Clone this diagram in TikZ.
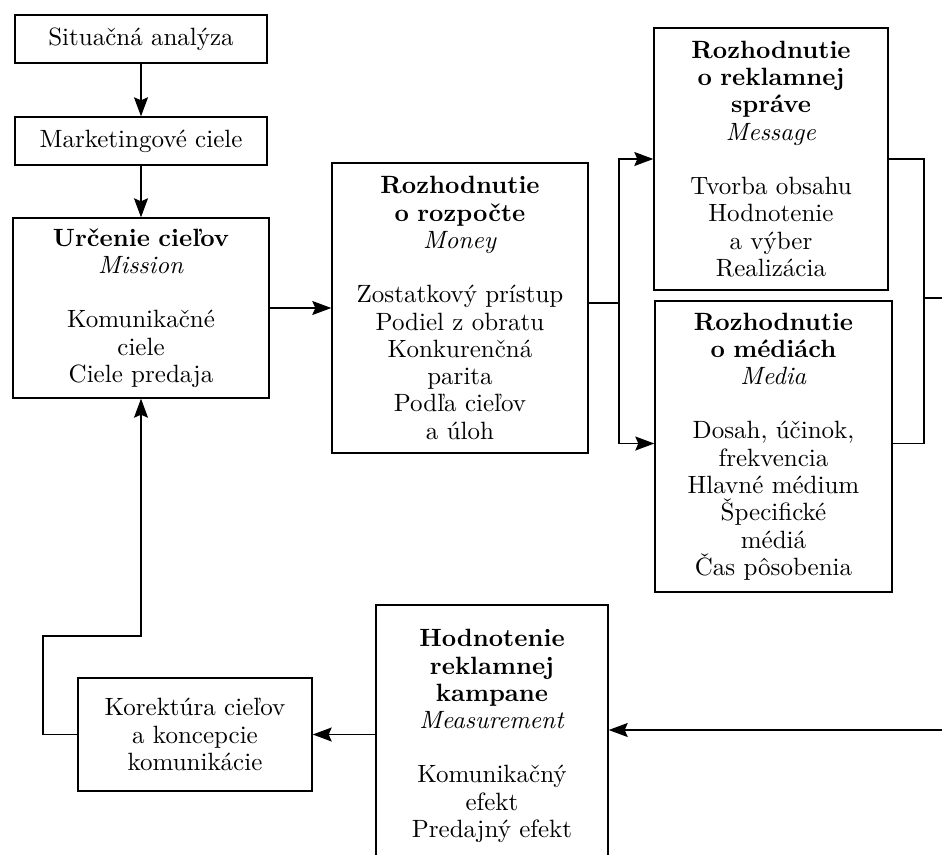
\documentclass[tikz,border=0pt]{standalone}
\usepackage{fontspec}
\setmainfont{lmroman10-regular.otf}[BoldFont=lmroman10-bold.otf, ItalicFont=lmroman10-italic.otf]
\usepackage{tikz}
\usetikzlibrary{arrows.meta}
\tikzstyle{smallbox} = [rectangle, minimum width=252pt, minimum height=48pt, text centered, draw=black, line width=1.4pt, font=\fontsize{25}{27.3}\selectfont]
\tikzstyle{bigbox} = [rectangle, text centered, draw=black, line width=1.4pt, text width=215pt, font=\fontsize{25}{27.3}\selectfont]
\tikzstyle{arrow} = [line width=1.4pt,-{Stealth[length=19pt,width=14pt,inset=3pt]}]
\tikzstyle{line} = [line width=1.4pt]

\begin{document}
\begin{tikzpicture}[x=1pt,y=-1pt,node distance=102pt]
        \useasboundingbox (0,0) rectangle (942,854);
        \node (sit) [smallbox] at (141,39) {Situačná analýza};
        \node (mark) [smallbox, below of=sit] {Marketingové ciele};
        \node (mission) [bigbox, minimum width=256pt, minimum height=180pt] at (141,308) {\textbf{Určenie cieľov}\\ \textit{Mission}\\[27pt] Komunikačné\\ ciele\\ Ciele predaja};
        \node (money) [bigbox, minimum width=256pt, minimum height=290pt] at (460,308) {\textbf{Rozhodnutie}\\ \textbf{o rozpočte}\\ \textit{Money}\\[27pt] Zostatkový prístup\\ Podiel z obratu\\ Konkurenčná\\ parita\\ Podľa cieľov\\ a úloh};
        \node (message) [bigbox, minimum width=234pt, minimum height=262pt] at (771,159) {\textbf{Rozhodnutie}\\ \textbf{o reklamnej}\\ \textbf{správe}\\ \textit{Message}\\[27pt] Tvorba obsahu\\ Hodnotenie\\ a výber\\ Realizácia};
        \node (media) [bigbox, minimum width=237pt, minimum height=291pt] at (773.5,446.5) {\textbf{Rozhodnutie}\\ \textbf{o médiách}\\ \textit{Media}\\[27pt] Dosah, účinok,\\ frekvencia\\ Hlavné médium\\ Špecifické\\ médiá\\ Čas pôsobenia};
        \node (measure) [bigbox, minimum width=232pt, minimum height=262pt] at (492,736) {\textbf{Hodnotenie}\\ \textbf{reklamnej}\\ \textbf{kampane}\\ \textit{Measurement}\\[27pt] Komunikačný\\ efekt\\ Predajný efekt};
        \node (korekt) [bigbox, text width=205pt, minimum width=234pt, minimum height=113pt] at (195,734.5) {Korektúra cieľov\\ a koncepcie\\ komunikácie};
        % branch points
        \coordinate (split) at (619,303);
        \coordinate (join) at (924,298);
        \coordinate (out) at (950,298);
        \coordinate (back) at (950,730);
        \coordinate (fb) at (43,636);
        \draw [arrow] (sit) -- (mark);
        \draw [arrow] (mark) -- (mission);
        \draw [arrow] (mission) -- (money);
        \draw [line] (money.east |- split) -- (split);
        \draw [arrow] (split) |- (message.west);
        \draw [arrow] (split) |- ([yshift=3pt]media.west);
        \draw [line] (message.east) -| (join) |- ([yshift=3pt]media.east);
        \draw [line] (join) -- (out);
        \draw [arrow] (back) -- (back -| measure.east);
        \draw [arrow] (measure.west |- korekt.east) -- (korekt.east);
        \draw [arrow] (korekt.west) -| (fb) -| (mission.south);
    \end{tikzpicture}
\end{document}
